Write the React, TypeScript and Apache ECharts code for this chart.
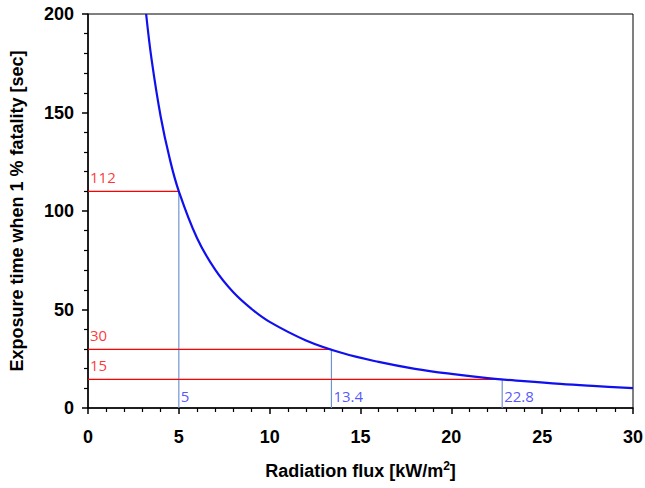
import React, { useEffect, useRef } from "react";
import * as echarts from "echarts";

const fluxValues = [3.2, 3.5, 4, 4.5, 5, 6, 7, 8, 9, 10, 12, 14, 16, 18, 20, 22, 24, 26, 28, 30];
const timeValues = [200, 177, 148, 126.5, 110, 86.3, 70.2, 58.7, 50.3, 43.7, 34.3, 27.9, 23.4, 19.9, 17.3, 15.2, 13.6, 12.2, 11.1, 10.1];

const refFlux = [5, 13.4, 22.8];
const refTime = [110, 29.8, 14.5];
const refTimeLabels = ["112", "30", "15"];
const refFluxLabels = ["5", "13.4", "22.8"];

const FONT = "'Liberation Sans', Arial, sans-serif";
const ANN_FONT = "'Open Sans', 'Noto Sans', sans-serif";

export default function App() {
  const ref = useRef<HTMLDivElement>(null);
  useEffect(() => {
    if (!ref.current) return;
    const chart = echarts.init(ref.current, undefined, { renderer: "svg" });
    const series: any[] = [];
    refFlux.forEach((fx, i) => {
      series.push({
        type: "line",
        data: [[0, refTime[i]], [fx, refTime[i]]],
        symbol: "none",
        lineStyle: { color: "#ff0000", width: 1.2 },
        silent: true,
        z: 2,
      });
      series.push({
        type: "line",
        data: [[fx, 0], [fx, refTime[i]]],
        symbol: "none",
        lineStyle: { color: "#6f95d0", width: 1.2 },
        silent: true,
        z: 2,
      });
      series.push({
        type: "scatter",
        data: [[0, refTime[i]]],
        symbolSize: 0,
        silent: true,
        label: {
          show: true,
          formatter: refTimeLabels[i],
          position: "top",
          align: "left",
          distance: 7,
          offset: [2, 0],
          color: "#ff0000",
          fontSize: 15,
          fontFamily: ANN_FONT,
        },
      });
      series.push({
        type: "scatter",
        data: [[fx, 0]],
        symbolSize: 0,
        silent: true,
        label: {
          show: true,
          formatter: refFluxLabels[i],
          position: "top",
          align: "left",
          distance: 5,
          offset: [2, 0],
          color: "#2a2aff",
          fontSize: 15,
          fontFamily: ANN_FONT,
        },
      });
    });
    series.push({
      type: "line",
      data: fluxValues.map((x, i) => [x, timeValues[i]]),
      smooth: 0.4,
      symbol: "none",
      lineStyle: { color: "#1010ee", width: 2.2 },
      z: 5,
    });

    const axisLabel = { color: "#000", fontSize: 18, fontWeight: "bold", fontFamily: FONT };
    chart.setOption({
      animation: false,
      grid: {
        left: 88,
        right: 12,
        top: 14,
        bottom: 80,
        show: true,
        borderColor: "#000",
        borderWidth: 1,
        outerBoundsMode: "none",
        containLabel: false,
      },
      xAxis: {
        type: "value",
        min: 0,
        max: 30,
        interval: 5,
        name: "Radiation flux [kW/m{sup|2}]",
        nameLocation: "middle",
        nameGap: 52,
        nameTextStyle: {
          color: "#000",
          fontSize: 18,
          fontWeight: "bold",
          fontFamily: FONT,
          rich: {
            sup: { fontSize: 12, fontWeight: "bold", fontFamily: FONT, color: "#000", verticalAlign: "bottom", padding: [0, 0, 9, 0] },
          },
        },
        axisLine: { show: true, lineStyle: { color: "#000", width: 1.5 } },
        axisTick: { show: true, length: 6, lineStyle: { color: "#000", width: 1.5 } },
        minorTick: { show: true, splitNumber: 5, length: 4, lineStyle: { color: "#000", width: 1.2 } },
        splitLine: { show: false },
        axisLabel: { ...axisLabel, margin: 20 },
      },
      yAxis: {
        type: "value",
        min: 0,
        max: 200,
        interval: 50,
        name: "Exposure time when 1 % fatality [sec]",
        nameLocation: "middle",
        nameGap: 62,
        nameTextStyle: { color: "#000", fontSize: 18, fontWeight: "bold", fontFamily: FONT },
        axisLine: { show: true, lineStyle: { color: "#000", width: 1.5 } },
        axisTick: { show: true, length: 6, lineStyle: { color: "#000", width: 1.5 } },
        minorTick: { show: true, splitNumber: 5, length: 4, lineStyle: { color: "#000", width: 1.2 } },
        splitLine: { show: false },
        axisLabel: { ...axisLabel, margin: 14 },
      },
      series,
    });
    return () => chart.dispose();
  }, []);
  return (
    <div
      ref={ref}
      style={{ position: "absolute", left: 0, top: 0, width: 645, height: 488, background: "#fff" }}
    />
  );
}
